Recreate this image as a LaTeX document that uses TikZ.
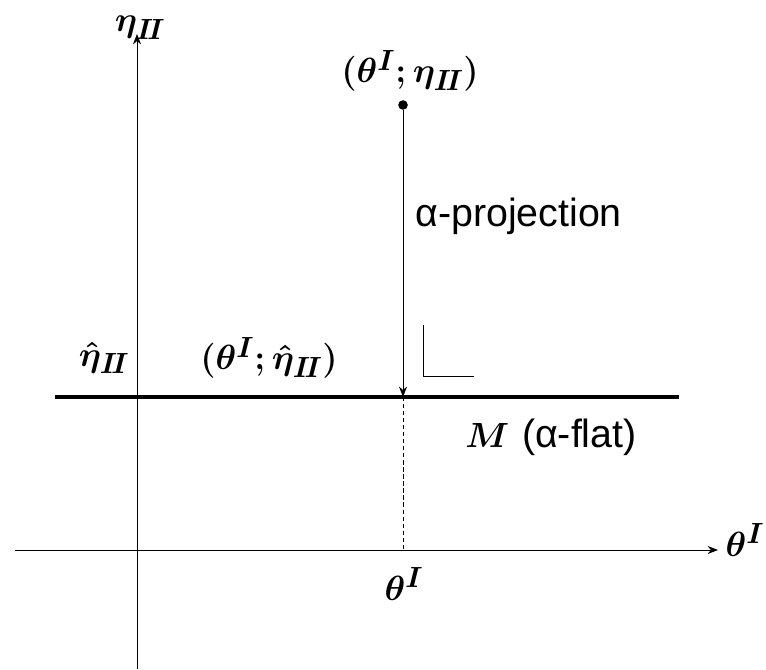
\documentclass[tikz,border=0pt]{standalone}
\usepackage{amsmath,amssymb}
\usepackage{fontspec}
\setsansfont{Liberation Sans}
\usetikzlibrary{positioning,arrows.meta}
\tikzset{
  axis/.style ={-{Stealth[length=2.6mm,width=2mm]}, semithick},
  proj/.style ={-{Stealth[length=2.6mm,width=2mm]}, semithick},
  mflat/.style={line width=2.8pt},
  guide/.style={densely dashed, thin},
  rmark/.style={thin},
  lbl/.style  ={font=\fontsize{30}{34}\selectfont\boldmath, inner sep=0pt},
  slbl/.style ={font=\fontsize{28}{32}\selectfont\sffamily, inner sep=0pt},
  pt/.style   ={circle, fill=black, inner sep=0pt, minimum size=2.4mm},
}
\newcommand{\etaII}{\eta_{I\!I}}
\newcommand{\hetaII}{\hat{\eta}_{I\!I}}
\newcommand{\thI}{\theta^{I}}

\begin{document}
\begin{tikzpicture}[x=0.025cm, y=-0.025cm]
  \useasboundingbox (0,0) rectangle (766,669);
  % axes
  \coordinate (ybot) at (137,669);
  \coordinate (ytop) at (137,34);
  \coordinate (xl)   at (15,550);
  \coordinate (xr)   at (718,550);
  \draw[axis] (ybot) -- (ytop);
  \draw[axis] (xl) -- (xr);
  \node[lbl] (ylab) at (140,28)  {$\etaII$};
  \node[lbl] (xlab) at (745,540) {$\thI$};
  % the alpha-flat M
  \coordinate (ml) at (55,397);
  \coordinate (mr) at (679,397);
  \draw[mflat] (ml) -- (mr);
  \node[lbl]  (mlab) at (551,437) {$M$ \textsf{\fontsize{28}{32}\selectfont\mdseries(α-flat)}};
  \node[lbl]  (hlab) at (104,358) {$\hetaII$};
  \node[lbl]  (qlab) at (269,358) {$(\thI;\hetaII)$};
  % point and projection
  \node[pt] (p) at (403,105) {};
  \node[lbl] (plab) at (410,71) {$(\thI;\etaII)$};
  \coordinate (q)  at (403,397);
  \coordinate (qx) at (403,550);
  \draw[proj] (p) -- (q);
  \draw[guide] (q) -- (qx);
  \node[slbl, anchor=west] (alab) at (415,216) {α-projection};
  \node[lbl] (tlab) at (404,584) {$\thI$};
  % right angle
  \draw[rmark] (423,325) -- (423,376) -- (474,376);
\end{tikzpicture}
\end{document}
